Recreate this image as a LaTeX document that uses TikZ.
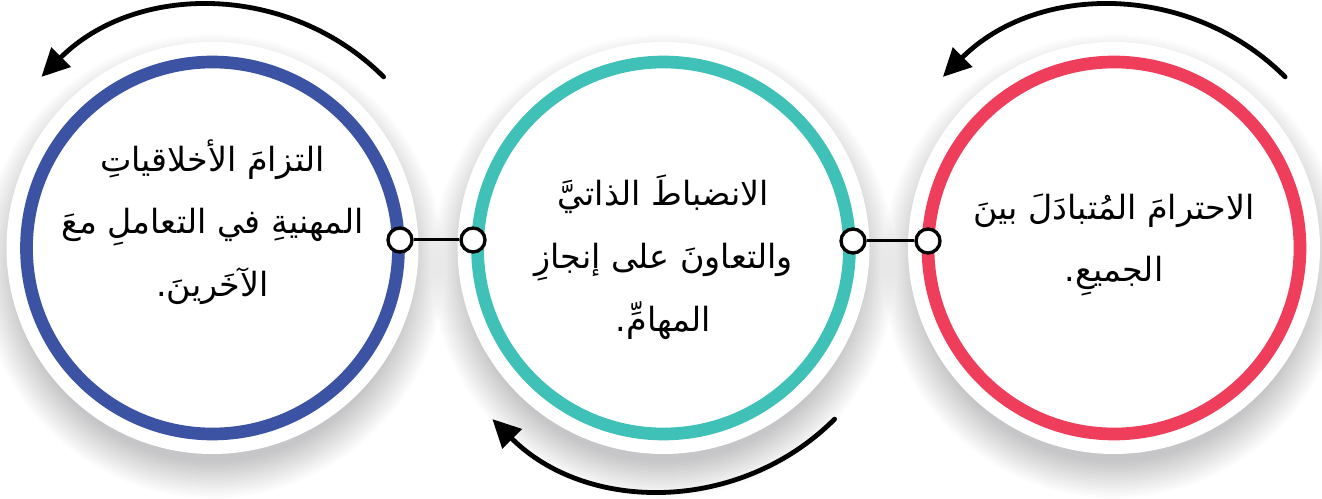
\documentclass[tikz,border=0pt]{standalone}
\usepackage{fontspec}
\TeXXeTstate=1
\newfontfamily\arabicfont[Script=Arabic]{DejaVu Sans}
\usetikzlibrary{arrows.meta}
\definecolor{ringblue}{RGB}{60,82,163}
\definecolor{ringteal}{RGB}{64,193,184}
\definecolor{ringred}{RGB}{239,62,92}
\tikzset{
  ring/.style={circle,draw=#1,line width=9.5pt,inner sep=0pt,minimum size=279pt},
  knob/.style={circle,draw=black,fill=white,line width=2.5pt,inner sep=0pt,minimum size=18pt},
  cycarrow/.style={line width=3.6pt,line cap=round,-{Triangle[length=21pt,width=20pt]}},
  ringtext/.style={align=center,inner sep=0pt,font=\arabicfont\fontsize{25pt}{47pt}\selectfont}
}
\begin{document}
\begin{tikzpicture}[x=0.75pt,y=0.75pt,yscale=-1,xscale=1]
\fill[white] (0,0) rectangle (1322,499);
\useasboundingbox (0,0) rectangle (1322,499);

%Shadows
\foreach \cx in {212.5,663.5,1114}
  \foreach \r in {196,198,...,232}
    \fill[black!85!blue,opacity=0.012] (\cx,266) circle (\r);
%White discs
\foreach \cx in {212.5,663.5,1114}
  \fill[white] (\cx,248) circle (206);

%Rings
\node[ring=ringblue] (ringL) at (212.5,248) {};
\node[ring=ringteal] (ringM) at (663.5,248) {};
\node[ring=ringred] (ringR) at (1114,248) {};

%Knobs and links
\node[knob] (knobL) at (400,240) {};
\node[knob] (knobML) at (473,240) {};
\node[knob] (knobMR) at (853,241) {};
\node[knob] (knobR) at (928,241) {};
\draw[line width=2.25pt] (knobL) -- (knobML);
\draw[line width=2.25pt] (knobMR) -- (knobR);

%Cycle arrows
\coordinate (startL) at (383.6,76.9);
\coordinate (startM) at (834.6,419.1);
\coordinate (startR) at (1285.1,76.9);
\draw[cycarrow] (startL) arc[start angle=-45,end angle=-135,radius=242];
\draw[cycarrow] (startM) arc[start angle=45,end angle=135,radius=242];
\draw[cycarrow] (startR) arc[start angle=-45,end angle=-135,radius=242];

% Text Node
\node[ringtext] (textL) at (212.5,222) {\beginR التزامَ الأخلاقياتِ\endR\\\beginR المهنيةِ في التعاملِ معَ\endR\\\beginR الآخَرينَ.\endR};
% Text Node
\node[ringtext] (textM) at (663.5,257) {\beginR الانضباطَ الذاتيَّ\endR\\\beginR والتعاونَ على إنجازِ\endR\\\beginR المهامِّ.\endR};
% Text Node
\node[ringtext] (textR) at (1114,245) {\beginR الاحترامَ المُتبادَلَ بينَ\endR\\\beginR الجميعِ.\endR};

\end{tikzpicture}
\end{document}
